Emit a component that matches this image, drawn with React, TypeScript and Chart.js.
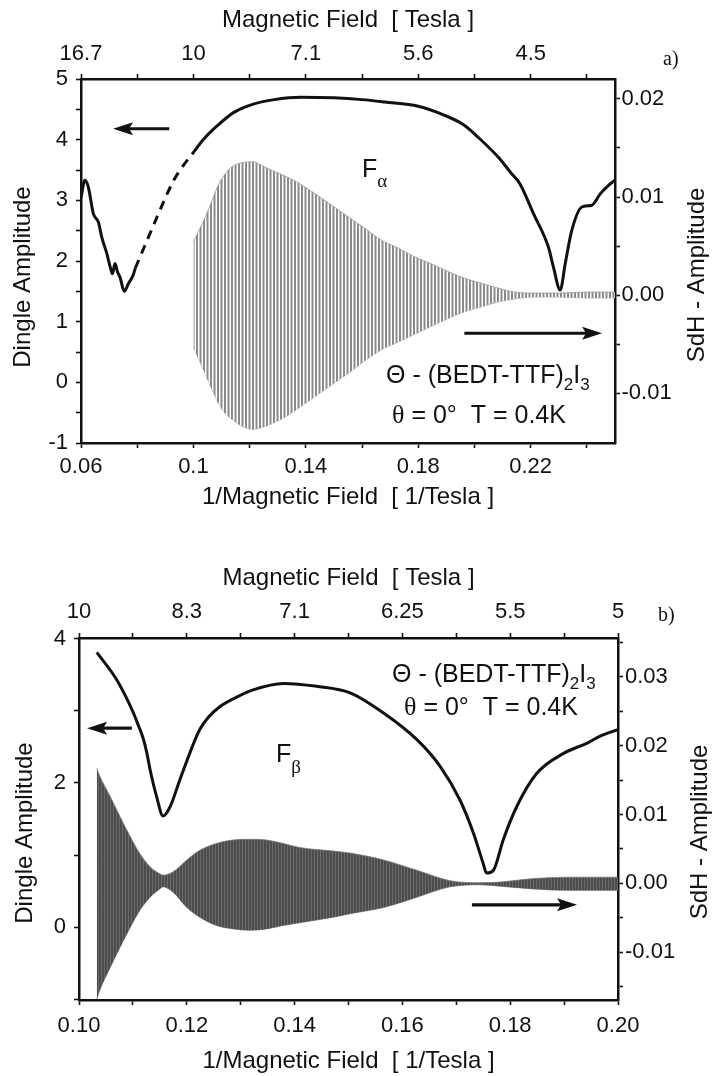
import React, { useEffect, useRef } from 'react';
import { Chart, registerables } from 'chart.js';

Chart.register(...registerables);

const SANS = "'Liberation Sans', Arial, Helvetica, sans-serif";
const SERIF = "'Liberation Serif', 'Times New Roman', serif";
const INK = '#111111';

// ---------------- Panel a) data ----------------
const aXTicks = [0.06, 0.08, 0.1, 0.12, 0.14, 0.16, 0.18, 0.2, 0.22, 0.24];
const aXLabelPos = [0.06, 0.1, 0.14, 0.18, 0.22];
const aBottomLabels = ['0.06', '0.1', '0.14', '0.18', '0.22'];
const aTopLabels = ['16.7', '10', '7.1', '5.6', '4.5'];
const aLeftTicks = [-1, -0.5, 0, 0.5, 1, 1.5, 2, 2.5, 3, 3.5, 4, 4.5, 5];
const aLeftLabelPos = [-1, 0, 1, 2, 3, 4, 5];
const aLeftLabels = ['-1', '0', '1', '2', '3', '4', '5'];
const aRightTicks = [-0.01, -0.005, 0, 0.005, 0.01, 0.015, 0.02];
const aRightLabelPos = [-0.01, 0, 0.01, 0.02];
const aRightLabels = ['-0.01', '0.00', '0.01', '0.02'];

const aDingleSolid1X = [0.06, 0.0614, 0.0626, 0.0644, 0.0662, 0.0674, 0.0692, 0.0704, 0.0712, 0.0721, 0.073, 0.0739, 0.0754, 0.0769, 0.0785, 0.0793];
const aDingleSolid1Y = [3.05, 3.33, 3.22, 2.78, 2.64, 2.39, 2.12, 1.9, 1.79, 1.96, 1.82, 1.73, 1.5, 1.63, 1.76, 1.88];
const aDingleDashX = [0.0793, 0.0835, 0.087, 0.09, 0.093, 0.096, 0.0995];
const aDingleDashY = [1.88, 2.34, 2.72, 3.04, 3.33, 3.55, 3.76];
const aDingleSolid2X = [0.0995, 0.1037, 0.1085, 0.1144, 0.1216, 0.1287, 0.1382, 0.15, 0.16, 0.168, 0.18, 0.1894, 0.196, 0.2013, 0.2085, 0.2132, 0.2162, 0.221, 0.2263, 0.2281, 0.2305, 0.2323, 0.2346, 0.2382, 0.2418, 0.2448, 0.2475, 0.2505];
const aDingleSolid2Y = [3.76, 4.01, 4.23, 4.45, 4.59, 4.66, 4.7, 4.69, 4.66, 4.62, 4.55, 4.4, 4.25, 4.04, 3.71, 3.44, 3.27, 2.78, 2.23, 1.9, 1.52, 1.96, 2.5, 2.89, 2.92, 3.11, 3.24, 3.35];

const aSdhX = [0.1, 0.102, 0.1043, 0.1067, 0.109, 0.1114, 0.1138, 0.1174, 0.121, 0.1245, 0.1281, 0.1329, 0.1376, 0.144, 0.15, 0.156, 0.161, 0.1668, 0.1728, 0.1787, 0.1846, 0.1906, 0.1965, 0.2025, 0.2085, 0.2144, 0.2204, 0.23, 0.24, 0.2505];
const aSdhUpper = [0.0054, 0.0066, 0.008, 0.0097, 0.0113, 0.0124, 0.0131, 0.0135, 0.0136, 0.0132, 0.0127, 0.0121, 0.0114, 0.0102, 0.009, 0.0078, 0.0068, 0.0056, 0.0048, 0.0039, 0.0032, 0.0024, 0.0017, 0.0012, 0.0007, 0.0003, 0.0002, 0.0002, 0.0003, 0.0003];
const aSdhLower = [-0.0053, -0.0066, -0.0081, -0.0097, -0.0111, -0.0121, -0.0127, -0.0134, -0.0137, -0.0135, -0.0131, -0.0124, -0.0115, -0.0102, -0.009, -0.0078, -0.0067, -0.0056, -0.0048, -0.004, -0.0032, -0.0024, -0.0017, -0.0012, -0.0007, -0.0004, -0.0002, -0.0002, -0.0003, -0.0003];

// ---------------- Panel b) data ----------------
const bXTicks = [0.1, 0.11, 0.12, 0.13, 0.14, 0.15, 0.16, 0.17, 0.18, 0.19, 0.2];
const bXLabelPos = [0.1, 0.12, 0.14, 0.16, 0.18, 0.2];
const bBottomLabels = ['0.10', '0.12', '0.14', '0.16', '0.18', '0.20'];
const bTopLabels = ['10', '8.3', '7.1', '6.25', '5.5', '5'];
const bLeftTicks = [-1, 0, 1, 2, 3, 4];
const bLeftLabelPos = [0, 2, 4];
const bLeftLabels = ['0', '2', '4'];
const bRightTicks = [-0.015, -0.01, -0.005, 0, 0.005, 0.01, 0.015, 0.02, 0.025, 0.03, 0.035];
const bRightLabelPos = [-0.01, 0, 0.01, 0.02, 0.03];
const bRightLabels = ['-0.01', '0.00', '0.01', '0.02', '0.03'];

const bDingleX = [0.1033, 0.107, 0.1101, 0.111, 0.1119, 0.1126, 0.1132, 0.1144, 0.1156, 0.1169, 0.1187, 0.1209, 0.1224, 0.124, 0.126, 0.129, 0.1323, 0.1379, 0.1441, 0.1503, 0.1565, 0.1627, 0.167, 0.1707, 0.1732, 0.175, 0.1756, 0.1769, 0.1787, 0.1812, 0.1849, 0.1899, 0.1942, 0.1967, 0.2];
const bDingleY = [3.81, 3.43, 2.97, 2.8, 2.62, 2.41, 2.18, 1.81, 1.54, 1.67, 2.04, 2.48, 2.74, 2.91, 3.05, 3.18, 3.29, 3.38, 3.34, 3.25, 2.97, 2.6, 2.23, 1.76, 1.3, 0.88, 0.75, 0.79, 1.21, 1.67, 2.13, 2.41, 2.55, 2.65, 2.74];

const bSdhX = [0.1033, 0.1039, 0.1058, 0.1076, 0.1095, 0.1113, 0.1132, 0.115, 0.1156, 0.1175, 0.12, 0.1224, 0.1255, 0.1286, 0.1317, 0.1348, 0.1379, 0.141, 0.1472, 0.1503, 0.1565, 0.1627, 0.1688, 0.1744, 0.1781, 0.1843, 0.1905, 0.2];
const bSdhUpper = [0.0167, 0.0155, 0.0126, 0.0097, 0.0068, 0.0043, 0.0024, 0.0014, 0.0012, 0.0017, 0.0034, 0.0048, 0.0058, 0.0063, 0.0064, 0.0063, 0.0058, 0.0052, 0.0047, 0.0044, 0.0034, 0.0019, 0.0004, 0.0001, 0.0002, 0.0007, 0.0009, 0.0009];
const bSdhLower = [-0.0168, -0.0154, -0.0122, -0.0093, -0.0064, -0.0039, -0.002, -0.0008, -0.0005, -0.0013, -0.0035, -0.0049, -0.0061, -0.0066, -0.0068, -0.0066, -0.0061, -0.0057, -0.0049, -0.0044, -0.0035, -0.002, -0.0005, -0.0002, -0.0004, -0.0008, -0.001, -0.001];

// ---------------- helpers ----------------
type Pt = { x: number; y: number };
const pts = (xs: number[], ys: number[]): Pt[] => xs.map((x, i) => ({ x, y: ys[i] }));

const labelAt = (pos: number[], labels: string[]) => (value: number) => {
  const i = pos.findIndex((p) => Math.abs(p - value) < 1e-9);
  return i >= 0 ? labels[i] : '';
};

function xAxis(position: string, min: number, max: number, tickVals: number[], labelPos: number[], labels: string[], title: string, size: number, tickPad: number, titlePad: any) {
  return {
    type: 'linear',
    position,
    min,
    max,
    afterBuildTicks: (a: any) => {
      a.ticks = tickVals.map((v) => ({ value: v }));
    },
    afterFit: (a: any) => {
      a.height = size;
    },
    grid: { display: true, drawOnChartArea: false, drawTicks: true, tickLength: 5, tickWidth: 1.6, tickColor: INK },
    border: { display: true, color: INK, width: 2.5 },
    ticks: { autoSkip: false, maxRotation: 0, minRotation: 0, padding: tickPad, color: INK, font: { family: SANS, size: 22 }, callback: labelAt(labelPos, labels) },
    title: { display: true, text: title, color: INK, font: { family: SANS, size: 24 }, padding: titlePad },
  };
}

function yAxis(position: string, min: number, max: number, tickVals: number[], labelPos: number[], labels: string[], size: number, tickPad: number) {
  return {
    type: 'linear',
    position,
    min,
    max,
    afterBuildTicks: (a: any) => {
      a.ticks = tickVals.map((v) => ({ value: v }));
    },
    afterFit: (a: any) => {
      a.width = size;
    },
    grid: { display: true, drawOnChartArea: false, drawTicks: true, tickLength: 5, tickWidth: 1.6, tickColor: INK },
    border: { display: true, color: INK, width: 2.5 },
    ticks: { autoSkip: false, padding: tickPad, color: INK, font: { family: SANS, size: 22 }, callback: labelAt(labelPos, labels) },
    title: { display: false },
  };
}

type Run = { text: string; font: string; dy?: number };
function drawRuns(ctx: CanvasRenderingContext2D, x: number, y: number, runs: Run[]) {
  let cx = x;
  ctx.textAlign = 'left';
  ctx.textBaseline = 'alphabetic';
  for (const r of runs) {
    ctx.font = r.font;
    ctx.fillText(r.text, cx, y + (r.dy || 0));
    cx += ctx.measureText(r.text).width;
  }
}

function drawArrow(ctx: CanvasRenderingContext2D, x1: number, y: number, x2: number) {
  const dir = x2 > x1 ? 1 : -1;
  const head = 20;
  const half = 6.5;
  ctx.save();
  ctx.strokeStyle = INK;
  ctx.fillStyle = INK;
  ctx.lineWidth = 3.2;
  ctx.beginPath();
  ctx.moveTo(x1, y);
  ctx.lineTo(x2 - dir * head * 0.8, y);
  ctx.stroke();
  ctx.beginPath();
  ctx.moveTo(x2, y);
  ctx.lineTo(x2 - dir * head, y - half);
  ctx.lineTo(x2 - dir * head * 0.8, y);
  ctx.lineTo(x2 - dir * head, y + half);
  ctx.closePath();
  ctx.fill();
  ctx.restore();
}

function drawVTitle(ctx: CanvasRenderingContext2D, text: string, cx: number, cy: number) {
  ctx.save();
  ctx.translate(cx, cy);
  ctx.rotate(-Math.PI / 2);
  ctx.font = `24px ${SANS}`;
  ctx.fillStyle = INK;
  ctx.textAlign = 'center';
  ctx.textBaseline = 'middle';
  ctx.fillText(text, 0, 0);
  ctx.restore();
}

type Arrow = { axis: string; y: number; x1: number; x2: number };
type Decor = {
  arrows: Arrow[];
  texts: { x: number; y: number; runs: Run[] }[];
  vTitles: { text: string; x: number; y: number }[];
};

const decorPlugin = (decor: Decor) => ({
  id: 'decor',
  afterDatasetsDraw(chart: any) {
    const ctx: CanvasRenderingContext2D = chart.ctx;
    ctx.save();
    ctx.fillStyle = INK;
    for (const a of decor.arrows) {
      const sx = chart.scales.x;
      const sy = chart.scales[a.axis];
      drawArrow(ctx, sx.getPixelForValue(a.x1), sy.getPixelForValue(a.y), sx.getPixelForValue(a.x2));
    }
    for (const t of decor.texts) {
      ctx.fillStyle = INK;
      drawRuns(ctx, t.x, t.y, t.runs);
    }
    for (const v of decor.vTitles) drawVTitle(ctx, v.text, v.x, v.y);
    ctx.restore();
  },
});

const f = (size: number, fam = SANS) => `${size}px ${fam}`;

function formulaRuns(): Run[] {
  return [
    { text: '\u0398 - (BEDT-TTF)', font: f(25) },
    { text: '2', font: f(17), dy: 7 },
    { text: 'I', font: f(25) },
    { text: '3', font: f(17), dy: 7 },
  ];
}
function condRuns(): Run[] {
  return [
    { text: '\u03b8', font: f(26, SERIF) },
    { text: ' = 0\u00b0  T = 0.4K', font: f(25) },
  ];
}

function buildA(ctx: CanvasRenderingContext2D) {
  const pc = document.createElement('canvas');
  pc.width = 7;
  pc.height = 4;
  const g = pc.getContext('2d')!;
  g.fillStyle = '#ffffff';
  g.fillRect(0, 0, 7, 4);
  g.fillStyle = '#8a8a8a';
  g.fillRect(0, 0, 2, 4);
  g.fillRect(3.5, 0, 2, 4);
  const pattern = ctx.createPattern(pc, 'repeat');

  const line = { borderColor: INK, borderWidth: 3, pointRadius: 0, fill: false, cubicInterpolationMode: 'monotone', yAxisID: 'y' };
  const env = { yAxisID: 'y1', borderColor: '#9a9a9a', borderWidth: 0.8, pointRadius: 0, cubicInterpolationMode: 'monotone' };
  const decor: Decor = {
    arrows: [
      { axis: 'y', y: 4.18, x1: 0.0914, x2: 0.0714 },
      { axis: 'y1', y: -0.0039, x1: 0.1964, x2: 0.2454 },
    ],
    texts: [
      { x: 362, y: 177, runs: [{ text: 'F', font: f(25) }, { text: '\u03b1', font: f(19, SERIF), dy: 10 }] },
      { x: 386, y: 383, runs: formulaRuns() },
      { x: 392, y: 423, runs: condRuns() },
      { x: 663, y: 65, runs: [{ text: 'a)', font: f(20, SERIF) }] },
    ],
    vTitles: [
      { text: 'Dingle Amplitude', x: 23, y: 277 },
      { text: 'SdH - Amplitude', x: 697, y: 275 },
    ],
  };
  return {
    type: 'line',
    data: {
      datasets: [
        { ...line, data: pts(aDingleSolid1X, aDingleSolid1Y) },
        { ...line, data: pts(aDingleDashX, aDingleDashY), borderDash: [9, 7] },
        { ...line, data: pts(aDingleSolid2X, aDingleSolid2Y) },
        { ...env, data: pts(aSdhX, aSdhUpper), fill: '+1', backgroundColor: pattern },
        { ...env, data: pts(aSdhX, aSdhLower), fill: false },
      ],
    },
    options: {
      animation: false,
      responsive: false,
      events: [],
      layout: { padding: 0 },
      plugins: { legend: { display: false }, tooltip: { enabled: false } },
      scales: {
        x: xAxis('bottom', 0.06, 0.25, aXTicks, aXLabelPos, aBottomLabels, '1/Magnetic Field  [ 1/Tesla ]', 87, 6, { top: 0, bottom: 18 }),
        x2: xAxis('top', 0.06, 0.25, aXTicks, aXLabelPos, aTopLabels, 'Magnetic Field  [ Tesla ]', 79, 7, { top: 6, bottom: 0 }),
        y: yAxis('left', -1, 5, aLeftTicks, aLeftLabelPos, aLeftLabels, 81, 8),
        y1: yAxis('right', -0.0151, 0.02204, aRightTicks, aRightLabelPos, aRightLabels, 100, 1.5),
      },
    },
    plugins: [decorPlugin(decor)],
  };
}

function buildB(ctx: CanvasRenderingContext2D) {
  const pc = document.createElement('canvas');
  pc.width = 3;
  pc.height = 4;
  const g = pc.getContext('2d')!;
  g.fillStyle = '#4c4c4c';
  g.fillRect(0, 0, 3, 4);
  g.fillStyle = '#6a6a6a';
  g.fillRect(2, 0, 1, 4);
  const pattern = ctx.createPattern(pc, 'repeat');

  const env = { yAxisID: 'y1', borderColor: '#777777', borderWidth: 0.8, pointRadius: 0, cubicInterpolationMode: 'monotone' };
  const decor: Decor = {
    arrows: [
      { axis: 'y', y: 2.76, x1: 0.1098, x2: 0.1015 },
      { axis: 'y1', y: -0.0031, x1: 0.1729, x2: 0.1924 },
    ],
    texts: [
      { x: 276, y: 232, runs: [{ text: 'F', font: f(25) }, { text: '\u03b2', font: f(19, SERIF), dy: 11 }] },
      { x: 392, y: 152, runs: formulaRuns() },
      { x: 404, y: 185, runs: condRuns() },
      { x: 658, y: 91, runs: [{ text: 'b)', font: f(20, SERIF) }] },
    ],
    vTitles: [
      { text: 'Dingle Amplitude', x: 25, y: 303 },
      { text: 'SdH - Amplitude', x: 700, y: 302 },
    ],
  };
  return {
    type: 'line',
    data: {
      datasets: [
        { data: pts(bDingleX, bDingleY), yAxisID: 'y', borderColor: INK, borderWidth: 3, pointRadius: 0, fill: false, cubicInterpolationMode: 'monotone' },
        { ...env, data: pts(bSdhX, bSdhUpper), fill: '+1', backgroundColor: pattern },
        { ...env, data: pts(bSdhX, bSdhLower), fill: false },
      ],
    },
    options: {
      animation: false,
      responsive: false,
      events: [],
      layout: { padding: 0 },
      plugins: { legend: { display: false }, tooltip: { enabled: false } },
      scales: {
        x: xAxis('bottom', 0.1, 0.2, bXTicks, bXLabelPos, bBottomLabels, '1/Magnetic Field  [ 1/Tesla ]', 76, 8, { top: 0, bottom: 0 }),
        x2: xAxis('top', 0.1, 0.2, bXTicks, bXLabelPos, bTopLabels, 'Magnetic Field  [ Tesla ]', 108, 8, { top: 34, bottom: 0 }),
        y: yAxis('left', -1.01, 4.01, bLeftTicks, bLeftLabelPos, bLeftLabels, 79, 8),
        y1: yAxis('right', -0.01692, 0.03562, bRightTicks, bRightLabelPos, bRightLabels, 97, 2),
      },
    },
    plugins: [decorPlugin(decor)],
  };
}

function Panel({ top, height, build }: { top: number; height: number; build: (ctx: CanvasRenderingContext2D) => any }) {
  const ref = useRef<HTMLCanvasElement>(null);
  useEffect(() => {
    const canvas = ref.current!;
    const chart = new Chart(canvas, build(canvas.getContext('2d')!));
    return () => chart.destroy();
  }, []);
  return (
    <canvas
      ref={ref}
      width={715}
      height={height}
      style={{ position: 'absolute', left: 0, top, width: 715, height, display: 'block' }}
    />
  );
}

export default function App() {
  return (
    <div style={{ position: 'absolute', left: 0, top: 0, width: 715, height: 1076, background: '#ffffff' }}>
      <Panel top={0} height={530} build={buildA} />
      <Panel top={530} height={546} build={buildB} />
    </div>
  );
}
